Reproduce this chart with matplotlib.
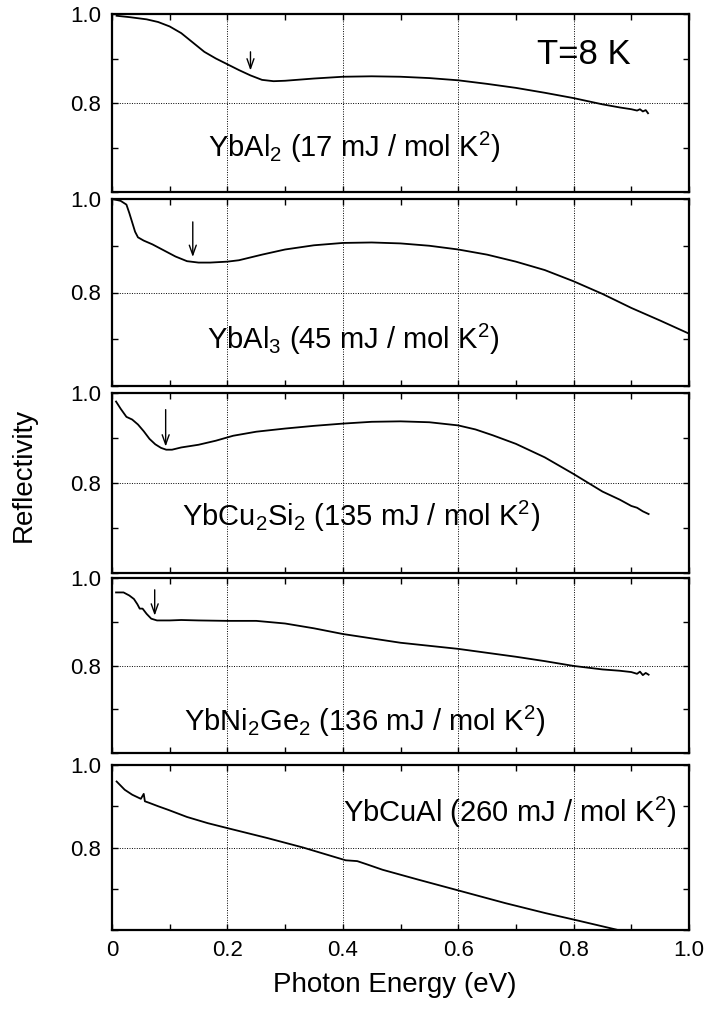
import numpy as np
import matplotlib
matplotlib.use("Agg")
import matplotlib.pyplot as plt
from matplotlib.ticker import MultipleLocator, FixedLocator

plt.rcParams['font.family'] = ['Liberation Sans', 'DejaVu Sans']
plt.rcParams['mathtext.default'] = 'regular'

# ---------------- data ----------------
x_ybal2 = [0.008, 0.030, 0.060, 0.080, 0.100, 0.120, 0.140, 0.160, 0.180, 0.200,
           0.220, 0.240, 0.260, 0.280, 0.300, 0.350, 0.400, 0.450, 0.500, 0.550,
           0.600, 0.650, 0.700, 0.750, 0.800, 0.850, 0.880, 0.900, 0.910, 0.915,
           0.920, 0.925, 0.929]
r_ybal2 = [0.996, 0.993, 0.988, 0.982, 0.972, 0.957, 0.936, 0.915, 0.900, 0.887,
           0.874, 0.862, 0.852, 0.849, 0.850, 0.855, 0.859, 0.860, 0.859, 0.856,
           0.851, 0.843, 0.834, 0.823, 0.811, 0.797, 0.790, 0.786, 0.783, 0.786,
           0.781, 0.784, 0.777]

x_ybal3 = [0.001, 0.015, 0.025, 0.030, 0.035, 0.040, 0.045, 0.055, 0.070, 0.090,
           0.110, 0.130, 0.150, 0.170, 0.200, 0.220, 0.260, 0.300, 0.350, 0.400,
           0.450, 0.500, 0.550, 0.600, 0.650, 0.700, 0.750, 0.800, 0.850, 0.900,
           0.950, 1.000]
r_ybal3 = [1.000, 0.996, 0.988, 0.970, 0.950, 0.930, 0.918, 0.911, 0.903, 0.890,
           0.877, 0.867, 0.864, 0.864, 0.866, 0.869, 0.881, 0.892, 0.901, 0.906,
           0.907, 0.905, 0.900, 0.892, 0.881, 0.866, 0.848, 0.824, 0.797, 0.767,
           0.740, 0.712]

x_ybcu2si2 = [0.007, 0.015, 0.025, 0.035, 0.045, 0.055, 0.065, 0.075, 0.085, 0.094,
              0.104, 0.120, 0.150, 0.180, 0.210, 0.250, 0.300, 0.350, 0.400, 0.450,
              0.500, 0.550, 0.600, 0.630, 0.660, 0.700, 0.750, 0.800, 0.850, 0.880,
              0.900, 0.910, 0.920, 0.930]
r_ybcu2si2 = [0.981, 0.965, 0.947, 0.941, 0.930, 0.915, 0.898, 0.886, 0.878, 0.874,
              0.874, 0.879, 0.885, 0.894, 0.905, 0.914, 0.921, 0.927, 0.932, 0.936,
              0.937, 0.935, 0.928, 0.919, 0.906, 0.887, 0.857, 0.820, 0.781, 0.763,
              0.749, 0.745, 0.737, 0.731]

x_ybni2ge2 = [0.007, 0.020, 0.030, 0.038, 0.044, 0.048, 0.053, 0.060, 0.068, 0.078,
              0.100, 0.120, 0.150, 0.200, 0.250, 0.300, 0.350, 0.400, 0.450, 0.500,
              0.550, 0.600, 0.650, 0.700, 0.750, 0.800, 0.850, 0.880, 0.900, 0.910,
              0.915, 0.920, 0.925, 0.930]
r_ybni2ge2 = [0.967, 0.967, 0.960, 0.952, 0.940, 0.930, 0.930, 0.918, 0.907, 0.903,
              0.903, 0.904, 0.903, 0.902, 0.902, 0.896, 0.885, 0.872, 0.862, 0.852,
              0.845, 0.838, 0.829, 0.820, 0.810, 0.799, 0.791, 0.788, 0.785, 0.781,
              0.786, 0.778, 0.783, 0.779]

x_ybcual = [0.008, 0.022, 0.035, 0.050, 0.055, 0.057, 0.065, 0.080, 0.098, 0.130,
            0.166, 0.200, 0.269, 0.331, 0.393, 0.405, 0.425, 0.440, 0.469, 0.531,
            0.600, 0.682, 0.751, 0.801, 0.874]
r_ybcual = [0.960, 0.940, 0.928, 0.918, 0.930, 0.912, 0.908, 0.900, 0.891, 0.874,
            0.859, 0.847, 0.823, 0.800, 0.774, 0.769, 0.767, 0.760, 0.746, 0.722,
            0.696, 0.665, 0.641, 0.625, 0.601]

series_x = [x_ybal2, x_ybal3, x_ybcu2si2, x_ybni2ge2, x_ybcual]
series_r = [r_ybal2, r_ybal3, r_ybcu2si2, r_ybni2ge2, r_ybcual]

labels = [r'YbAl$_2$ (17 mJ / mol K$^2$)',
          r'YbAl$_3$ (45 mJ / mol K$^2$)',
          r'YbCu$_2$Si$_2$ (135 mJ / mol K$^2$)',
          r'YbNi$_2$Ge$_2$ (136 mJ / mol K$^2$)',
          r'YbCuAl (260 mJ / mol K$^2$)']
label_pos = [(0.166, 0.679), (0.165, 0.680), (0.122, 0.704), (0.124, 0.650), (0.400, 0.863)]

# arrows: x, y_start, y_end (None for no arrow)
arrow_x = [0.240, 0.140, 0.093, 0.074, None]
arrow_y0 = [0.915, 0.951, 0.963, 0.973, None]
arrow_y1 = [0.873, 0.876, 0.881, 0.914, None]

x_ticks = [0, 0.2, 0.4, 0.6, 0.8, 1.0]
x_ticklabels = ['0', '0.2', '0.4', '0.6', '0.8', '1.0']
y_ticks = [0.6, 0.8, 1.0]
y_ticklabels = ['', '0.8', '1.0']

# ---------------- layout ----------------
W, H = 710, 1009
fig = plt.figure(figsize=(W / 100, H / 100), dpi=100)
left_px, right_px = 112, 689
panels_px = [(14, 192), (199, 386), (393, 573), (578, 753), (765, 930)]

axes = []
for i, (top, bot) in enumerate(panels_px):
    ax = fig.add_axes([left_px / W, 1 - bot / H, (right_px - left_px) / W, (bot - top) / H])
    axes.append(ax)
    ax.plot(series_x[i], series_r[i], color='black', lw=1.3)
    ax.set_xlim(0, 1.0)
    ax.set_ylim(0.6, 1.0)
    ax.xaxis.set_major_locator(FixedLocator(x_ticks))
    ax.xaxis.set_minor_locator(MultipleLocator(0.1))
    ax.yaxis.set_major_locator(FixedLocator(y_ticks))
    ax.yaxis.set_minor_locator(FixedLocator([0.7, 0.9]))
    ax.set_yticklabels(y_ticklabels)
    if i == len(panels_px) - 1:
        ax.set_xticklabels(x_ticklabels)
    else:
        ax.set_xticklabels([])
    ax.tick_params(which='both', direction='in', top=True, right=True,
                   length=4, width=1.0, labelsize=16, colors='black')
    ax.tick_params(axis='y', pad=8)
    ax.tick_params(axis='x', pad=7)
    ax.grid(True, which='major', color='black', lw=0.7, linestyle=(0, (1, 1.5)))
    for s in ax.spines.values():
        s.set_linewidth(1.6)
    lx, ly = label_pos[i]
    ax.text(lx, ly, labels[i], fontsize=21, ha='left', va='baseline')
    if arrow_x[i] is not None:
        ax.annotate('', xy=(arrow_x[i], arrow_y1[i]), xytext=(arrow_x[i], arrow_y0[i]),
                    arrowprops=dict(arrowstyle='->,head_length=0.7,head_width=0.25',
                                    color='black', lw=1.0, shrinkA=0, shrinkB=0))

axes[0].text(0.737, 0.887, 'T=8 K', fontsize=25, ha='left', va='baseline')

fig.text(395 / W, 1 - 985 / H, 'Photon Energy (eV)', fontsize=20, ha='center', va='center')
fig.text(24 / W, 1 - 475 / H, 'Reflectivity', fontsize=20, ha='center', va='center', rotation=90)

fig.savefig('out.png', dpi=100)
